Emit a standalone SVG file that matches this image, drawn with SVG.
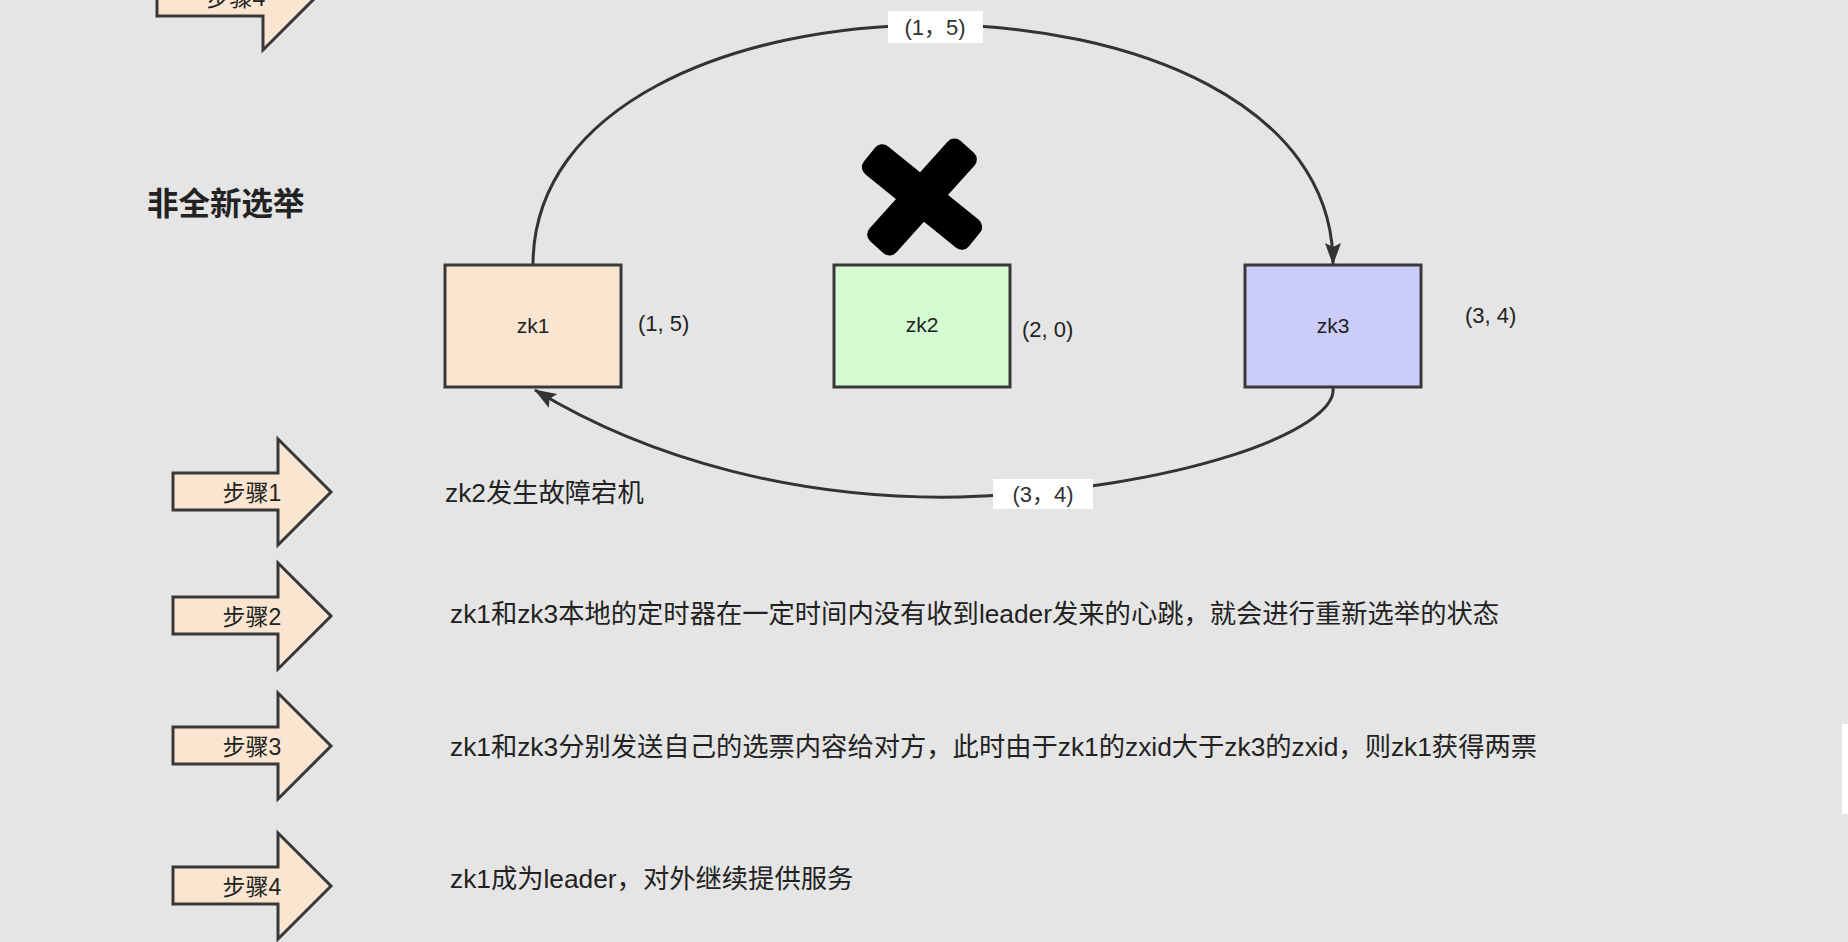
<svg xmlns="http://www.w3.org/2000/svg" width="1848" height="942" viewBox="0 0 1848 942">
  <style>
    .node { stroke: #383838; stroke-width: 3; }
    .n1 { fill: #FAE6D0; }
    .n2 { fill: #D4FCD0; }
    .n3 { fill: #CCCCF8; }
    .step { fill: #FAE6D0; stroke: #383838; stroke-width: 3; stroke-linejoin: miter; }
    .t { font-family: "Liberation Sans", "Noto Sans CJK SC", sans-serif; fill: #222; }
    .ntext { font-size: 21px; text-anchor: middle; }
    .side { font-size: 22px; }
    .steplbl { font-size: 23px; text-anchor: middle; }
    .desc { font-size: 26.3px; }
    .edge { fill: none; stroke: #333; stroke-width: 3; }
    .elbl { fill: #FFFFFF; }
    .etext { font-size: 22px; text-anchor: middle; fill: #333; }
  </style>
  <defs>
    <marker id="arrow" viewBox="0 0 22 16" refX="21" refY="8" markerWidth="22" markerHeight="16" markerUnits="userSpaceOnUse" orient="auto">
      <path d="M0,0 L22,8 L0,16 L4,8 z" fill="#333"/>
    </marker>
  </defs>

  <rect x="0" y="0" width="1848" height="942" fill="#E5E5E5"/>
  <rect x="1842" y="724" width="6" height="90" fill="#FFFFFF"/>

  <text class="t" x="147" y="215" font-size="31.5" font-weight="bold">非全新选举</text>

  <g id="connectors">
    <path class="edge" d="M533,265 C533,-55 1333,-55 1333,264" marker-end="url(#arrow)"/>
    <path class="edge" d="M1333,388 C1338,430 1180,490 960,497 C800,500 650,460 535,390" marker-end="url(#arrow)"/>
    <g id="label-top">
      <rect class="elbl" x="888" y="11" width="95" height="32"/>
      <text class="t etext" x="935" y="35">(1，5)</text>
    </g>
    <g id="label-bottom">
      <rect class="elbl" x="993" y="479" width="100" height="30"/>
      <text class="t etext" x="1043" y="502">(3，4)</text>
    </g>
  </g>

  <g id="zk1">
    <rect class="node n1" x="445" y="265" width="176" height="122"/>
    <text class="t ntext" x="533" y="333">zk1</text>
    <text class="t side" x="638" y="331">(1, 5)</text>
  </g>
  <g id="zk2">
    <rect class="node n2" x="834" y="265" width="176" height="122"/>
    <text class="t ntext" x="922" y="332">zk2</text>
    <text class="t side" x="1022" y="337">(2, 0)</text>
  </g>
  <g id="zk3">
    <rect class="node n3" x="1245" y="265" width="176" height="122"/>
    <text class="t ntext" x="1333" y="333">zk3</text>
    <text class="t side" x="1465" y="323">(3, 4)</text>
  </g>

  <g id="cross" fill="#000">
    <rect x="854.5" y="179" width="135" height="36" rx="9" transform="rotate(39 922 197)"/>
    <rect x="854.5" y="179" width="135" height="36" rx="9" transform="rotate(-48 922 197)"/>
  </g>

  <g id="step-top">
    <polygon class="step" points="157,-21 263,-21 263,-56 316,-3 263,50 263,16 157,16"/>
    <text class="t steplbl" x="236" y="6">步骤4</text>
  </g>
  <g id="step1">
    <polygon class="step" points="173,473 278,473 278,439 331,492 278,545 278,510 173,510"/>
    <text class="t steplbl" x="252" y="501">步骤1</text>
    <text class="t desc" x="445" y="502">zk2发生故障宕机</text>
  </g>
  <g id="step2">
    <polygon class="step" points="173,597 278,597 278,563 331,616 278,669 278,634 173,634"/>
    <text class="t steplbl" x="252" y="625">步骤2</text>
    <text class="t desc" x="450" y="623">zk1和zk3本地的定时器在一定时间内没有收到leader发来的心跳，就会进行重新选举的状态</text>
  </g>
  <g id="step3">
    <polygon class="step" points="173,727 278,727 278,693 331,746 278,799 278,764 173,764"/>
    <text class="t steplbl" x="252" y="755">步骤3</text>
    <text class="t desc" x="450" y="756">zk1和zk3分别发送自己的选票内容给对方，此时由于zk1的zxid大于zk3的zxid，则zk1获得两票</text>
  </g>
  <g id="step4">
    <polygon class="step" points="173,867 278,867 278,833 331,886 278,939 278,904 173,904"/>
    <text class="t steplbl" x="252" y="895">步骤4</text>
    <text class="t desc" x="450" y="888">zk1成为leader，对外继续提供服务</text>
  </g>
</svg>
